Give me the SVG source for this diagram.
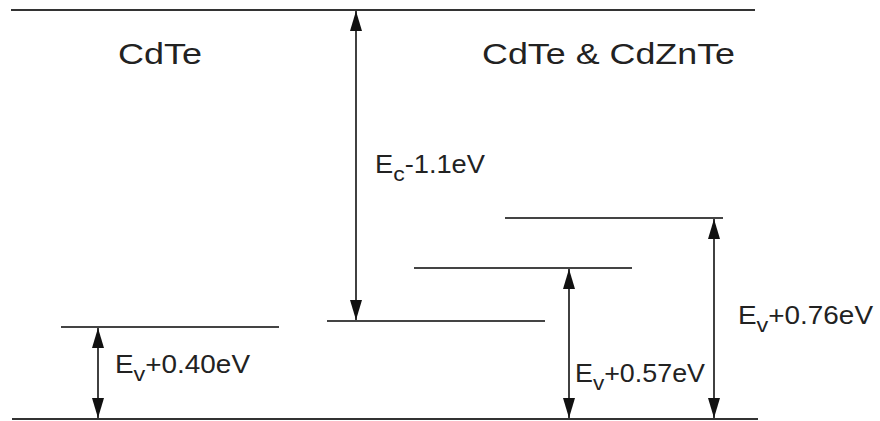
<svg xmlns="http://www.w3.org/2000/svg" width="880" height="421" viewBox="0 0 880 421">
<style>
.band{stroke:#333;stroke-width:2;fill:none}
.lvl{stroke:#444;stroke-width:2;fill:none}
.arr{stroke:#111;stroke-width:1.6;fill:none;marker-start:url(#hs);marker-end:url(#he)}
text{font-family:"Liberation Sans",Arial,sans-serif;fill:#222}
.title{font-size:30px}
.lab{font-size:25px}
</style>
<defs>
<marker id="he" viewBox="0 0 20 12" refX="20" refY="6" markerWidth="20" markerHeight="12" markerUnits="userSpaceOnUse" orient="auto">
<path d="M0,0 L20,6 L0,12 Z" fill="#111"/>
</marker>
<marker id="hs" viewBox="0 0 20 12" refX="0" refY="6" markerWidth="20" markerHeight="12" markerUnits="userSpaceOnUse" orient="auto">
<path d="M20,0 L0,6 L20,12 Z" fill="#111"/>
</marker>
</defs>
<g id="bands">
<line class="band" x1="11" y1="10" x2="755" y2="10"/>
<line class="band" x1="12" y1="419" x2="758" y2="419"/>
</g>
<g id="level-040">
<line class="lvl" x1="61" y1="327" x2="279" y2="327"/>
</g>
<g id="level-11">
<line class="lvl" x1="327" y1="321" x2="545" y2="321"/>
</g>
<g id="level-057">
<line class="lvl" x1="414" y1="268" x2="632" y2="268"/>
</g>
<g id="level-076">
<line class="lvl" x1="505" y1="218" x2="723" y2="218"/>
</g>
<g id="connectors">
<line class="arr" x1="356" y1="11" x2="356" y2="320"/>
<line class="arr" x1="98" y1="328" x2="98" y2="418"/>
<line class="arr" x1="569" y1="269" x2="569" y2="418"/>
<line class="arr" x1="714" y1="219" x2="714" y2="418"/>
</g>
<g id="labels">
<text class="title" x="118" y="64" textLength="84" lengthAdjust="spacingAndGlyphs">CdTe</text>
<text class="title" x="482" y="64" textLength="253" lengthAdjust="spacingAndGlyphs">CdTe &amp; CdZnTe</text>
<text class="lab" x="375" y="173" textLength="110" lengthAdjust="spacingAndGlyphs">E<tspan font-size="21" dy="8">c</tspan><tspan dy="-8">-1.1eV</tspan></text>
<text class="lab" x="115" y="373" textLength="135" lengthAdjust="spacingAndGlyphs">E<tspan font-size="21" dy="8">v</tspan><tspan dy="-8">+0.40eV</tspan></text>
<text class="lab" x="575" y="382" textLength="130" lengthAdjust="spacingAndGlyphs">E<tspan font-size="21" dy="8">v</tspan><tspan dy="-8">+0.57eV</tspan></text>
<text class="lab" x="738" y="324" textLength="135" lengthAdjust="spacingAndGlyphs">E<tspan font-size="21" dy="8">v</tspan><tspan dy="-8">+0.76eV</tspan></text>
</g>
</svg>
